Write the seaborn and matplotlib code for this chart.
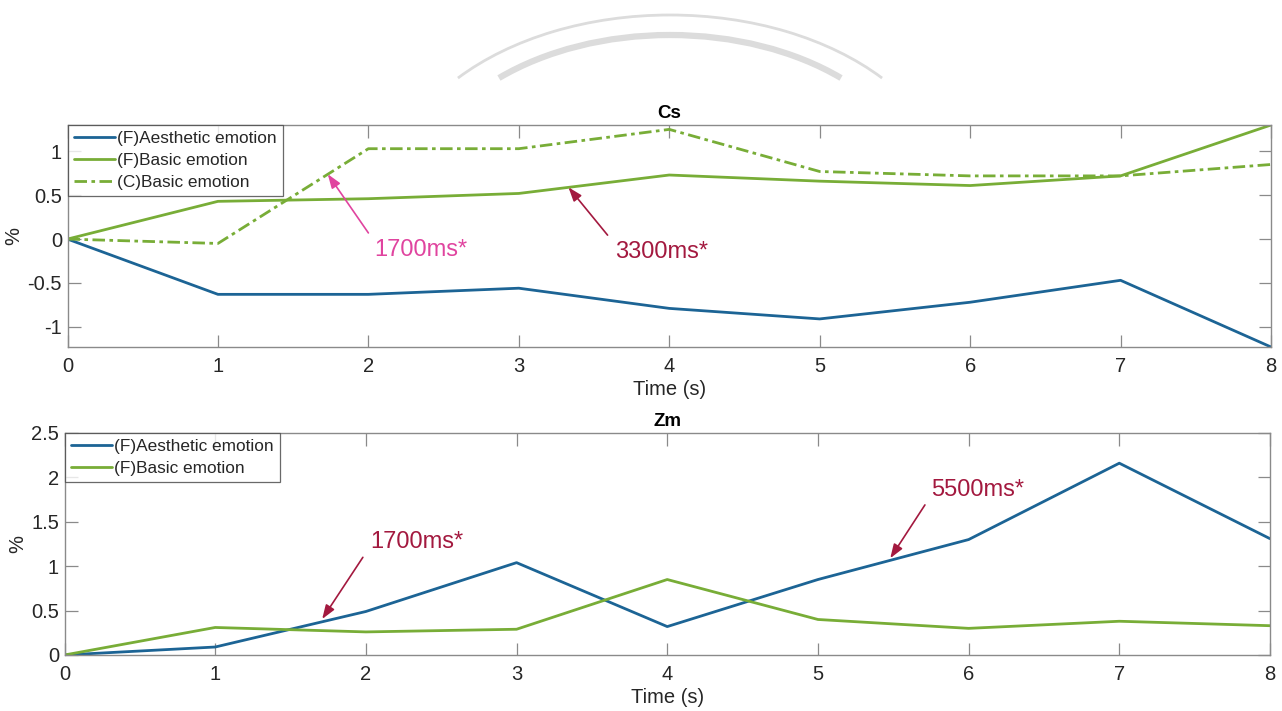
import numpy as np
import pandas as pd
import matplotlib
matplotlib.use("Agg")
import matplotlib.pyplot as plt
import seaborn as sns
from matplotlib.patches import Arc

# ---------------- data ----------------
time_s = [0, 1, 2, 3, 4, 5, 6, 7, 8]

cs_f_aesthetic = [0, -0.63, -0.63, -0.56, -0.79, -0.91, -0.72, -0.47, -1.23]
cs_f_basic = [0, 0.43, 0.46, 0.52, 0.73, 0.66, 0.61, 0.72, 1.30]
cs_c_basic = [0, -0.05, 1.03, 1.03, 1.25, 0.77, 0.72, 0.72, 0.85]

zm_f_aesthetic = [0, 0.09, 0.49, 1.04, 0.32, 0.85, 1.30, 2.16, 1.31]
zm_f_basic = [0, 0.31, 0.26, 0.29, 0.85, 0.40, 0.30, 0.38, 0.33]

series_names = ["(F)Aesthetic emotion", "(F)Basic emotion", "(C)Basic emotion"]
panel_titles = ["Cs", "Zm"]
x_label = "Time (s)"
y_label = "%"

# annotations: (text, text_xy, arrow_tail, arrow_head, colour)
cs_notes = [("1700ms*", (2.35, -0.125), (2.0, 0.07), (1.73, 0.74), "#e0449f"),
            ("3300ms*", (3.95, -0.145), (3.59, 0.045), (3.33, 0.59), "#a3193f")]
zm_notes = [("1700ms*", (2.34, 1.27), (1.98, 1.10), (1.71, 0.405), "#a3193f"),
            ("5500ms*", (6.06, 1.86), (5.71, 1.69), (5.48, 1.09), "#a3193f")]

# ---------------- style ----------------
sns.set_theme(style="white")
plt.rcParams["font.family"] = ["Liberation Sans", "DejaVu Sans"]

BLUE = "#1c6495"
GREEN = "#78ad37"
SPINE = "#8a8a8a"
TXT = "#262626"

fig = plt.figure(figsize=(12.82, 7.11), dpi=100)
W, H = 1282, 711

def px_axes(left, top, right, bottom):
    return fig.add_axes([left / W, 1 - bottom / H, (right - left) / W, (bottom - top) / H])

ax1 = px_axes(67.5, 125, 1271, 347)
ax2 = px_axes(64.5, 433, 1270, 655)

df_cs = pd.DataFrame({"t": time_s, "a": cs_f_aesthetic, "b": cs_f_basic, "c": cs_c_basic})
df_zm = pd.DataFrame({"t": time_s, "a": zm_f_aesthetic, "b": zm_f_basic})

lw = 2.0
sns.lineplot(data=df_cs, x="t", y="a", ax=ax1, color=BLUE, lw=lw, label=series_names[0])
sns.lineplot(data=df_cs, x="t", y="b", ax=ax1, color=GREEN, lw=lw, label=series_names[1])
sns.lineplot(data=df_cs, x="t", y="c", ax=ax1, color=GREEN, lw=lw, label=series_names[2],
             linestyle=(0, (4.5, 1.6, 1.3, 1.6)))

sns.lineplot(data=df_zm, x="t", y="a", ax=ax2, color=BLUE, lw=lw, label=series_names[0])
sns.lineplot(data=df_zm, x="t", y="b", ax=ax2, color=GREEN, lw=lw, label=series_names[1])

ax1.set_ylim(-1.23, 1.30)
ax1.set_yticks([-1, -0.5, 0, 0.5, 1])
ax1.set_yticklabels(["-1", "-0.5", "0", "0.5", "1"])
ax2.set_ylim(0, 2.5)
ax2.set_yticks([0, 0.5, 1, 1.5, 2, 2.5])
ax2.set_yticklabels(["0", "0.5", "1", "1.5", "2", "2.5"])

for ax, title in zip([ax1, ax2], panel_titles):
    ax.set_xlim(0, 8)
    ax.set_xticks(time_s)
    ax.set_xticklabels([str(t) for t in time_s])
    ax.set_xlabel(x_label, fontsize=14.5, color=TXT, labelpad=3)
    ax.set_ylabel(y_label, fontsize=14.5, color=TXT, labelpad=3)
    ax.set_title(title, fontsize=13.5, fontweight="bold", color="black", pad=5)
    ax.tick_params(axis="both", which="both", direction="in", length=9, width=0.9,
                   color=SPINE, labelsize=14.5, labelcolor=TXT,
                   top=True, right=True, bottom=True, left=True)
    ax.tick_params(axis="x", pad=7)
    ax.tick_params(axis="y", pad=4)
    for sp in ax.spines.values():
        sp.set_visible(True)
        sp.set_color(SPINE)
        sp.set_linewidth(1.0)
    leg = ax.legend(loc="upper left", fontsize=12.4, frameon=True, fancybox=False,
                    handlelength=2.4, handletextpad=0.15, borderpad=0.35,
                    labelspacing=0.4, borderaxespad=0.0)
    leg.get_frame().set_edgecolor("#444444")
    leg.get_frame().set_linewidth(0.9)
    for t in leg.get_texts():
        t.set_color(TXT)

for ax, notes in [(ax1, cs_notes), (ax2, zm_notes)]:
    for text, txy, tail, head, col in notes:
        ax.annotate("", xy=head, xytext=tail,
                    arrowprops=dict(arrowstyle="-|>,head_length=0.7,head_width=0.25",
                                    color=col, lw=1.2, shrinkA=0, shrinkB=0))
        ax.text(txy[0], txy[1], text, color=col, fontsize=17, ha="center", va="center")

# watermark arcs at top (true polar angles)
ov = fig.add_axes([0, 0, 1, 1], zorder=-5)
ov.set_xlim(0, W)
ov.set_ylim(0, H)
ov.axis("off")
ov.add_patch(Arc((670, H - 200), 2 * 282, 2 * 185, theta1=29.9, theta2=150.1,
                 color="#dcdcdc", lw=2.0))
ov.add_patch(Arc((670, H - 200), 2 * 254, 2 * 165, theta1=35.5, theta2=144.5,
                 color="#dcdcdc", lw=4.5))

fig.savefig("out.png", dpi=100)
